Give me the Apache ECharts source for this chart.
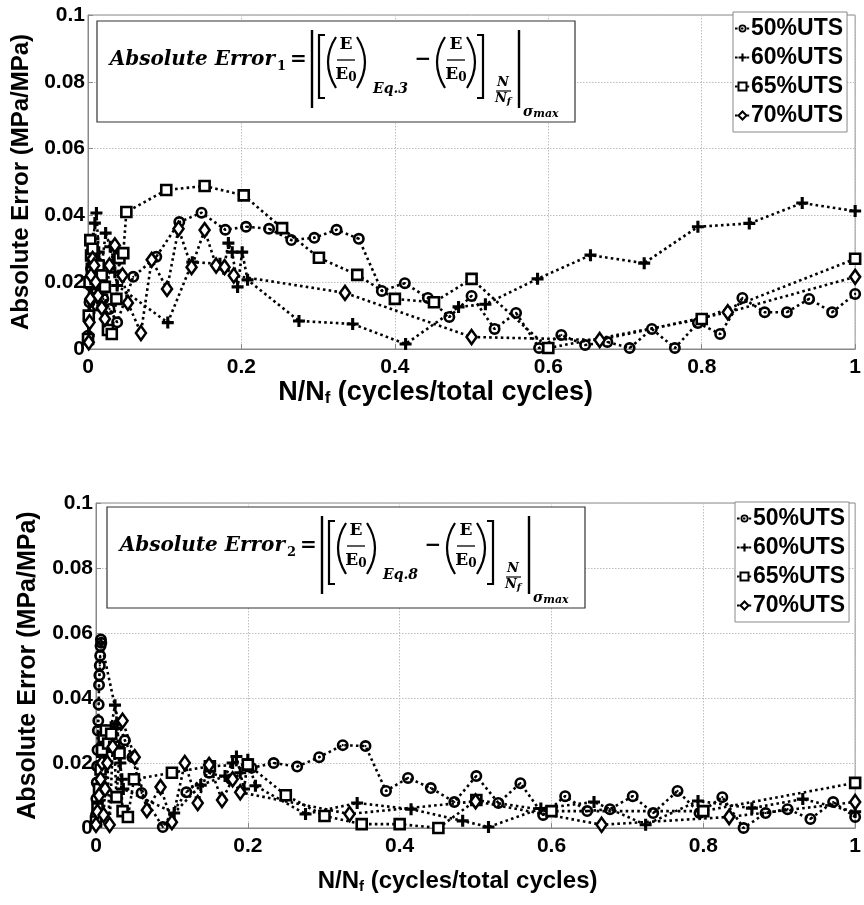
<!DOCTYPE html>
<html>
<head>
<meta charset="utf-8">
<script src="https://cdn.jsdelivr.net/npm/echarts@6/dist/echarts.min.js"></script>
<style>html,body{margin:0;padding:0;background:#fff;}#c{width:864px;height:905px;}</style>
</head>
<body>
<div id="c"></div>
<script>
// ---------- DATA ----------
var seriesNames = ['50%UTS', '60%UTS', '65%UTS', '70%UTS'];
var xTicks = [0, 0.2, 0.4, 0.6, 0.8, 1];
var yTicks = [0, 0.02, 0.04, 0.06, 0.08, 0.1];

// Chart 1 (Absolute Error 1)
var top50 = [[0,0.004],[0.001,0.009],[0.002,0.014],[0.003,0.019],[0.004,0.024],[0.005,0.028],[0.006,0.030],[0.007,0.026],[0.008,0.022],[0.010,0.018],[0.012,0.013],[0.015,0.019],[0.020,0.015],[0.028,0.012],[0.038,0.008],[0.059,0.0216],[0.089,0.0276],[0.119,0.038],[0.148,0.0408],[0.179,0.0357],[0.206,0.0366],[0.236,0.036],[0.265,0.0326],[0.295,0.0333],[0.324,0.0357],[0.353,0.033],[0.383,0.0174],[0.413,0.0197],[0.443,0.0153],[0.471,0.0096],[0.500,0.0159],[0.530,0.006],[0.558,0.0108],[0.588,0.0003],[0.617,0.0042],[0.648,0.0012],[0.677,0.0021],[0.706,0.0003],[0.735,0.006],[0.765,0.0003],[0.795,0.0078],[0.824,0.0045],[0.853,0.0153],[0.882,0.011],[0.911,0.011],[0.940,0.015],[0.970,0.011],[1.000,0.0165]];
var top60 = [[0.001,0.004],[0.002,0.011],[0.003,0.019],[0.005,0.027],[0.007,0.033],[0.009,0.0377],[0.011,0.0407],[0.014,0.029],[0.018,0.025],[0.023,0.0347],[0.029,0.0306],[0.033,0.026],[0.035,0.023],[0.038,0.019],[0.104,0.0079],[0.136,0.026],[0.172,0.0255],[0.177,0.024],[0.183,0.0317],[0.188,0.029],[0.195,0.0186],[0.201,0.029],[0.208,0.0207],[0.275,0.0084],[0.345,0.0075],[0.414,0.0015],[0.483,0.0126],[0.518,0.0134],[0.586,0.021],[0.655,0.0281],[0.725,0.0257],[0.795,0.0366],[0.862,0.0376],[0.931,0.0437],[1.000,0.0413]];
var top65 = [[0,0.003],[0.001,0.010],[0.002,0.020],[0.003,0.0326],[0.004,0.028],[0.005,0.024],[0.006,0.030],[0.008,0.026],[0.010,0.021],[0.014,0.025],[0.018,0.022],[0.022,0.0186],[0.026,0.0057],[0.031,0.0045],[0.037,0.015],[0.041,0.0272],[0.046,0.0287],[0.050,0.041],[0.102,0.0476],[0.152,0.0488],[0.203,0.046],[0.253,0.0362],[0.301,0.0273],[0.351,0.0222],[0.400,0.015],[0.451,0.014],[0.500,0.021],[0.600,0.0003],[0.800,0.009],[1.000,0.027]];
var top70 = [[0.001,0.002],[0.002,0.008],[0.003,0.015],[0.004,0.022],[0.006,0.027],[0.008,0.025],[0.010,0.020],[0.013,0.016],[0.018,0.0123],[0.022,0.009],[0.028,0.025],[0.035,0.031],[0.045,0.022],[0.052,0.0138],[0.069,0.0048],[0.083,0.0267],[0.103,0.018],[0.118,0.036],[0.135,0.0245],[0.152,0.0356],[0.167,0.025],[0.178,0.0245],[0.190,0.022],[0.335,0.0168],[0.500,0.0036],[0.667,0.0027],[0.834,0.011],[1.000,0.0216]];

// Chart 2 (Absolute Error 2)
var bot50 = [[0,0.004],[0.0005,0.009],[0.001,0.014],[0.0015,0.019],[0.002,0.024],[0.0025,0.030],[0.003,0.033],[0.0035,0.038],[0.004,0.044],[0.0045,0.047],[0.005,0.050],[0.0055,0.053],[0.006,0.056],[0.0065,0.058],[0.007,0.057],[0.030,0.032],[0.038,0.027],[0.048,0.0218],[0.060,0.0108],[0.088,0.0003],[0.119,0.011],[0.149,0.017],[0.178,0.015],[0.205,0.0185],[0.234,0.020],[0.265,0.0189],[0.294,0.0218],[0.325,0.0255],[0.355,0.0252],[0.382,0.0114],[0.411,0.0154],[0.441,0.0123],[0.472,0.008],[0.501,0.016],[0.530,0.0077],[0.559,0.0138],[0.589,0.004],[0.618,0.0098],[0.647,0.0052],[0.677,0.0058],[0.707,0.0098],[0.734,0.0046],[0.766,0.0114],[0.795,0.0046],[0.825,0.0095],[0.853,0.0],[0.882,0.0046],[0.911,0.0058],[0.941,0.0028],[0.971,0.008],[1.000,0.0034]];
var bot60 = [[0,0.003],[0.002,0.008],[0.004,0.013],[0.006,0.018],[0.008,0.022],[0.010,0.026],[0.013,0.030],[0.016,0.028],[0.020,0.031],[0.025,0.0378],[0.028,0.032],[0.030,0.025],[0.032,0.020],[0.034,0.015],[0.036,0.012],[0.103,0.0046],[0.138,0.0132],[0.170,0.016],[0.180,0.020],[0.185,0.022],[0.190,0.017],[0.195,0.012],[0.200,0.021],[0.210,0.013],[0.276,0.0043],[0.344,0.0077],[0.415,0.0058],[0.483,0.0022],[0.517,0.0003],[0.586,0.006],[0.656,0.008],[0.724,0.001],[0.793,0.0083],[0.864,0.0061],[0.931,0.0089],[1.000,0.005]];
var bot65 = [[0,0.002],[0.002,0.006],[0.004,0.012],[0.006,0.018],[0.008,0.024],[0.010,0.028],[0.013,0.030],[0.016,0.026],[0.020,0.029],[0.024,0.025],[0.027,0.0095],[0.031,0.023],[0.035,0.0052],[0.042,0.0034],[0.050,0.015],[0.100,0.017],[0.150,0.019],[0.200,0.0195],[0.250,0.0101],[0.301,0.0037],[0.350,0.0012],[0.400,0.0012],[0.451,0.0],[0.501,0.0086],[0.600,0.0052],[0.800,0.0052],[1.000,0.0139]];
var bot70 = [[0,0.001],[0.002,0.005],[0.004,0.010],[0.006,0.015],[0.008,0.020],[0.010,0.004],[0.012,0.012],[0.015,0.020],[0.018,0.001],[0.022,0.025],[0.035,0.033],[0.051,0.0218],[0.067,0.0055],[0.085,0.0126],[0.100,0.0018],[0.117,0.020],[0.134,0.0077],[0.149,0.0194],[0.166,0.0086],[0.180,0.015],[0.190,0.011],[0.334,0.0043],[0.500,0.0082],[0.666,0.001],[0.834,0.0034],[1.000,0.008]];

// ---------- STYLE ----------
var SANS = '"Liberation Sans", Arial, Helvetica, sans-serif';
var SERIF = '"DejaVu Serif", "Liberation Serif", serif';
var PLUS = 'path://M3.7,0H6.3V3.7H10V6.3H6.3V10H3.7V6.3H0V3.7H3.7Z';
var RING = 'path://M5,0A5,5 0 1 1 5,10A5,5 0 1 1 5,0ZM5,2.2A2.8,2.8 0 1 0 5,7.8A2.8,2.8 0 1 0 5,2.2ZM5,4.1A0.9,0.9 0 1 1 5,5.9A0.9,0.9 0 1 1 5,4.1Z';
var symbols = [
  {symbol: RING, size: 12, fill: '#000'},
  {symbol: PLUS, size: 12, fill: '#000'},
  {symbol: 'rect', size: 10, fill: '#fff'},
  {symbol: 'diamond', size: [10, 14], fill: '#fff'}
];
var topData = [top50, top60, top65, top70];
var botData = [bot50, bot60, bot65, bot70];

function mkSeries(idx, data, gi) {
  var s = symbols[idx];
  return {
    type: 'line', name: seriesNames[idx], xAxisIndex: gi, yAxisIndex: gi,
    data: data, symbol: s.symbol, symbolSize: s.size, showAllSymbol: true,
    lineStyle: {color: '#000', width: 2.6, type: [2.6, 3.2]},
    itemStyle: {color: s.fill, borderColor: '#000', borderWidth: s.fill === '#000' ? 0 : 2.6},
    emphasis: {disabled: true}, z: 3
  };
}
var series = [];
for (var i = 0; i < 4; i++) series.push(mkSeries(i, topData[i], 0));
for (var j = 0; j < 4; j++) series.push(mkSeries(j, botData[j], 1));

function mkX(gi, fs, gap, padR) {
  return {
    type: 'value', gridIndex: gi, min: xTicks[0], max: xTicks[xTicks.length - 1], interval: 0.2,
    axisLine: {show: true, lineStyle: {color: '#888', width: 1}},
    axisTick: {show: true, inside: true, length: 5, lineStyle: {color: '#888'}},
    splitLine: {show: true, lineStyle: {color: '#bdbdbd', type: [1.5, 1.5], width: 1}},
    axisLabel: {color: '#000', fontFamily: SANS, fontWeight: 'bold', fontSize: 21, margin: 8,
      formatter: function (v) { return String(+v.toFixed(2)); }},
    name: '{a|N/N}{s|f}{a| (cycles/total cycles)}', nameLocation: 'middle', nameGap: gap,
    nameTextStyle: {padding: [0, padR, 0, 0], rich: {
      a: {fontFamily: SANS, fontWeight: 'bold', fontSize: fs, color: '#000'},
      s: {fontFamily: SANS, fontWeight: 'bold', fontSize: Math.round(fs * 0.62), color: '#000', padding: [Math.round(fs * 0.45), 0, 0, 0]}
    }}
  };
}
function mkY(gi, fs, gap) {
  return {
    type: 'value', gridIndex: gi, min: yTicks[0], max: yTicks[yTicks.length - 1], interval: 0.02,
    axisLine: {show: true, lineStyle: {color: '#888', width: 1}},
    axisTick: {show: true, inside: true, length: 5, lineStyle: {color: '#888'}},
    splitLine: {show: true, lineStyle: {color: '#bdbdbd', type: [1.5, 1.5], width: 1}},
    axisLabel: {color: '#000', fontFamily: SANS, fontWeight: 'bold', fontSize: 21, margin: 3,
      formatter: function (v) { return String(+v.toFixed(2)); }},
    name: 'Absolute Error (MPa/MPa)', nameLocation: 'middle', nameGap: gap,
    nameTextStyle: {fontFamily: SANS, fontWeight: 'bold', fontSize: fs, color: '#000'}
  };
}

function mkLegend(left, top) {
  return {
    data: seriesNames, orient: 'vertical', left: left, top: top,
    backgroundColor: '#fff', borderColor: '#888', borderWidth: 1, padding: [5, 4, 5, 1],
    itemGap: 6, itemWidth: 15, itemHeight: 10, selectedMode: false,
    textStyle: {fontFamily: SANS, fontWeight: 'bold', fontSize: 23, color: '#000', lineHeight: 22, padding: [0, 0, 0, -4]}
  };
}

// formula box drawn with graphic elements
function formula(dx, dy, idx, eq) {
  var els = [];
  function T(x, y, txt, size, opts) {
    opts = opts || {};
    els.push({type: 'text', x: x + dx, y: y + dy, z: 10, style: {
      text: txt, fill: '#000', font: (opts.italic ? 'italic ' : '') + 'bold ' + size + 'px ' + SERIF,
      align: opts.align || 'left', verticalAlign: 'middle'
    }});
  }
  function L(pts, w) {
    els.push({type: 'polyline', z: 10, shape: {points: pts.map(function (p) { return [p[0] + dx, p[1] + dy]; })},
      style: {stroke: '#000', lineWidth: w || 2, fill: null}});
  }
  function P(x1, y1, x2, y2, cx, cy) {
    els.push({type: 'bezierCurve', z: 10, shape: {x1: x1 + dx, y1: y1 + dy, x2: x2 + dx, y2: y2 + dy, cpx1: cx + dx, cpy1: cy + dy},
      style: {stroke: '#000', lineWidth: 2.2, fill: null}});
  }
  function frac(cx, top, bot, lineY, w, size) {
    T(cx, top, 'E', size, {align: 'center'});
    L([[cx - w / 2, lineY], [cx + w / 2, lineY]], 1.3);
    els.push({type: 'text', x: cx + dx, y: bot + dy, z: 10, style: {
      text: '{e|E}{z|0}', align: 'center', verticalAlign: 'middle', fill: '#000',
      rich: {e: {font: 'bold ' + size + 'px ' + SERIF, fill: '#000'}, z: {font: 'bold ' + (size - 5) + 'px ' + SERIF, fill: '#000', padding: [6, 0, 0, 0]}}
    }});
  }
  els.push({type: 'rect', z: 9, shape: {x: 97 + dx, y: 21 + dy, width: 478, height: 101},
    style: {fill: '#fff', stroke: '#333', lineWidth: 1.2}});
  T(275, 60, 'Absolute Error', 20, {italic: true, align: 'right'});
  T(277, 67, idx, 13, {});
  T(290, 60, '=', 20, {});
  L([[312, 30], [312, 108]], 2.4);
  L([[325, 35], [319, 35], [319, 98], [325, 98]], 2.2);
  P(336, 37, 336, 88, 320, 62);
  frac(346, 45, 75, 60, 18, 17);
  P(357, 37, 357, 88, 373, 62);
  T(373, 89, 'Eq.' + eq, 14, {italic: true});
  T(423, 60, '\u2212', 20, {align: 'center'});
  P(445, 37, 445, 88, 429, 62);
  frac(456, 45, 75, 60, 18, 17);
  P(467, 37, 467, 88, 483, 62);
  L([[477, 35], [483, 35], [483, 98], [477, 98]], 2.2);
  T(503, 83, 'N', 13, {italic: true, align: 'center'});
  L([[496, 91], [511, 91]], 1.2);
  els.push({type: 'text', x: 503 + dx, y: 99 + dy, z: 10, style: {
    text: '{n|N}{f|f}', align: 'center', verticalAlign: 'middle',
    rich: {n: {font: 'italic bold 13px ' + SERIF, fill: '#000'}, f: {font: 'italic bold 10px ' + SERIF, fill: '#000', padding: [5, 0, 0, 0]}}
  }});
  L([[519, 30], [519, 108]], 2.4);
  els.push({type: 'text', x: 523 + dx, y: 112 + dy, z: 10, style: {
    text: '{a|\u03c3}{b|max}', align: 'left', verticalAlign: 'middle',
    rich: {a: {font: 'italic bold 14px ' + SERIF, fill: '#000'}, b: {font: 'italic bold 11px ' + SERIF, fill: '#000', padding: [5, 0, 0, 0]}}
  }});
  return els;
}

var chart = echarts.init(document.getElementById('c'), null, {renderer: 'canvas'});
chart.setOption({
  animation: false,
  backgroundColor: '#fff',
  grid: [
    {left: 88, top: 15, width: 770, height: 334, show: true, borderColor: '#888', borderWidth: 1, backgroundColor: 'transparent'},
    {left: 96, top: 503, width: 764, height: 325, show: true, borderColor: '#888', borderWidth: 1, backgroundColor: 'transparent'}
  ],
  xAxis: [mkX(0, 27, 28, 72), mkX(1, 24, 40, 36)],
  yAxis: [mkY(0, 24, 50), mkY(1, 25, 55)],
  legend: [mkLegend(733, 12), mkLegend(735, 502)],
  series: series,
  graphic: formula(0, 0, '1', '3').concat(formula(10, 486, '2', '8'))
});
</script>
</body>
</html>
